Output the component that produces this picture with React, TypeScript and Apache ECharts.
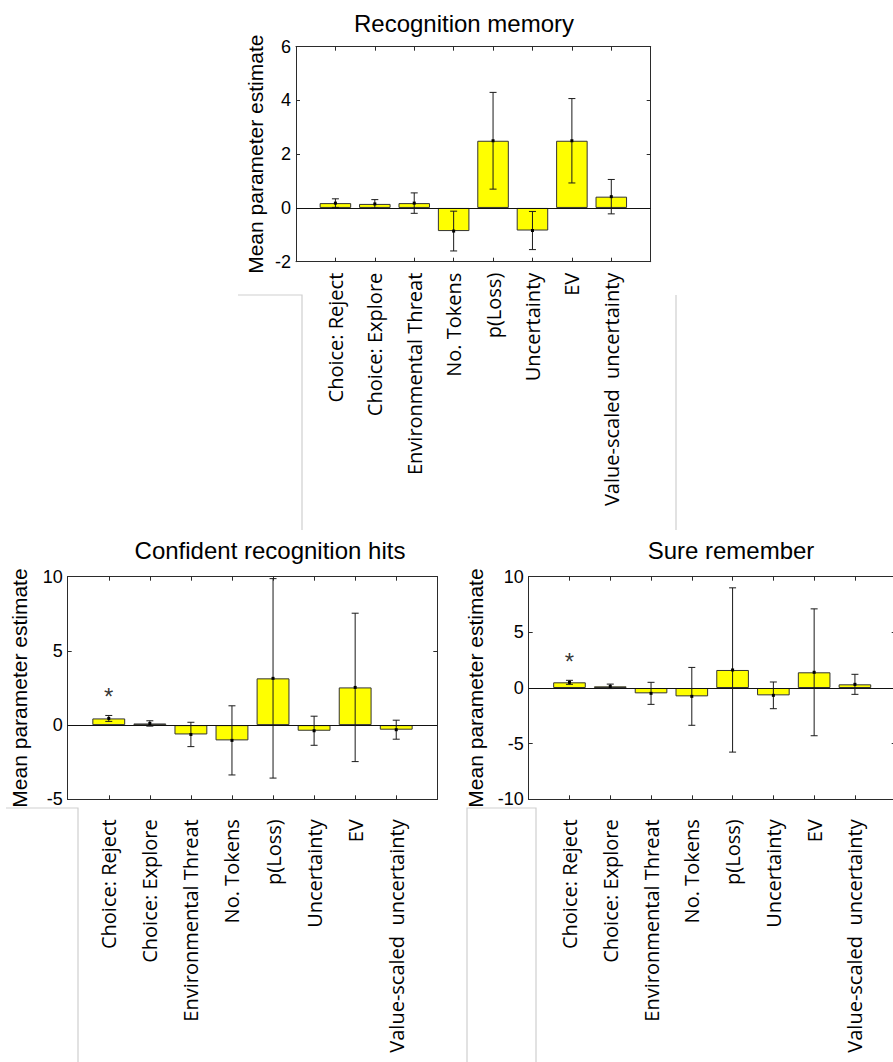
import React, { useEffect, useRef } from "react";
import * as echarts from "echarts";

const categories = [
  "Choice: Reject",
  "Choice: Explore",
  "Environmental Threat",
  "No. Tokens",
  "p(Loss)",
  "Uncertainty",
  "EV",
  "Value-scaled  uncertainty",
];

// Recognition memory
const recMean = [0.18, 0.15, 0.18, -0.86, 2.5, -0.84, 2.5, 0.42];
const recErr = [0.16, 0.16, 0.38, 0.74, 1.8, 0.71, 1.57, 0.64];
const recTicks = [-2, 0, 2, 4, 6];

// Confident recognition hits
const confMean = [0.45, 0.11, -0.63, -1.03, 3.15, -0.38, 2.54, -0.31];
const confErr = [0.2, 0.18, 0.82, 2.33, 6.72, 0.98, 5.0, 0.64];
const confTicks = [-5, 0, 5, 10];
const confStar = [[1, 2.27]];

// Sure remember
const sureMean = [0.51, 0.15, -0.48, -0.75, 1.62, -0.66, 1.41, 0.33];
const sureErr = [0.18, 0.2, 0.99, 2.6, 7.38, 1.2, 5.7, 0.9];
const sureTicks = [-10, -5, 0, 5, 10];
const sureStar = [[1, 2.8]];

const titles = ["Recognition memory", "Confident recognition hits", "Sure remember"];
const yName = "Mean parameter estimate";

const AX = "#2b2b2b";
const NUM_FONT = "Liberation Sans, Arial, sans-serif";
const CAT_FONT = "Open Sans, Noto Sans, sans-serif";

type Panel = {
  grid: { left: number; top: number; width: number; height: number };
  means: number[];
  errs: number[];
  ticks: number[];
  labelMargin: number;
  star?: number[][];
  title: string;
  titlePos: [number, number];
  nameGap: number;
};

export default function App() {
  const ref = useRef<HTMLDivElement>(null);

  useEffect(() => {
    if (!ref.current) return;
    const chart = echarts.init(ref.current, undefined, { renderer: "svg" });

    const panels: Panel[] = [
      {
        grid: { left: 296, top: 46.7, width: 354.7, height: 215 },
        means: recMean,
        errs: recErr,
        ticks: recTicks,
        labelMargin: 11,
        title: titles[0],
        titlePos: [464, 23],
        nameGap: 30,
      },
      {
        grid: { left: 67.7, top: 576.7, width: 369.6, height: 222.6 },
        means: confMean,
        errs: confErr,
        ticks: confTicks,
        labelMargin: 20,
        star: confStar,
        title: titles[1],
        titlePos: [270, 550],
        nameGap: 38,
      },
      {
        grid: { left: 528.7, top: 576.7, width: 367, height: 222.6 },
        means: sureMean,
        errs: sureErr,
        ticks: sureTicks,
        labelMargin: 20,
        star: sureStar,
        title: titles[2],
        titlePos: [731, 550],
        nameGap: 43,
      },
    ];

    const grids: any[] = [];
    const xAxes: any[] = [];
    const yAxes: any[] = [];
    const series: any[] = [];
    const graphics: any[] = [];

    panels.forEach((p, gi) => {
      grids.push({ ...p.grid, containLabel: false, show: false });
      const tickStep = p.ticks[1] - p.ticks[0];
      const common = {
        gridIndex: gi,
        axisLine: { show: true, onZero: false, lineStyle: { color: AX, width: 1 } },
        axisTick: { show: true, inside: true, length: 4, lineStyle: { color: AX, width: 1 } },
        splitLine: { show: false },
      };
      xAxes.push({
        ...common,
        type: "value",
        position: "bottom",
        min: 0,
        max: categories.length + 1,
        interval: 1,
        axisLabel: {
          show: true,
          rotate: 90,
          margin: p.labelMargin,
          fontFamily: CAT_FONT,
          fontSize: 20,
          color: "#000",
          showMinLabel: true,
          showMaxLabel: true,
          formatter: (v: number) => categories[Math.round(v) - 1] ?? "",
        },
      });
      xAxes.push({
        ...common,
        type: "value",
        position: "top",
        min: 0,
        max: categories.length + 1,
        interval: 1,
        axisLabel: { show: false },
      });
      yAxes.push({
        ...common,
        type: "value",
        position: "left",
        min: p.ticks[0],
        max: p.ticks[p.ticks.length - 1],
        interval: tickStep,
        axisLabel: {
          show: true,
          margin: 5,
          fontFamily: NUM_FONT,
          fontSize: 18,
          color: "#000",
        },
        name: yName,
        nameLocation: "middle",
        nameRotate: 90,
        nameGap: p.nameGap,
        nameTextStyle: { fontFamily: NUM_FONT, fontSize: 21, color: "#000" },
      });
      yAxes.push({
        ...common,
        type: "value",
        position: "right",
        min: p.ticks[0],
        max: p.ticks[p.ticks.length - 1],
        interval: tickStep,
        axisLabel: { show: false },
      });

      const xi = gi * 2;
      const yi = gi * 2;
      series.push({
        type: "bar",
        xAxisIndex: xi,
        yAxisIndex: yi,
        data: p.means.map((m, i) => [i + 1, m]),
        barWidth: (p.grid.width / 9) * 0.8,
        itemStyle: { color: "#ffff00", borderColor: "#333", borderWidth: 1 },
        markLine: {
          silent: true,
          symbol: ["none", "none"],
          label: { show: false },
          lineStyle: { color: "#111", width: 1, type: "solid" },
          data: [{ yAxis: 0 }],
        },
        z: 2,
      });
      series.push({
        type: "custom",
        xAxisIndex: xi,
        yAxisIndex: yi,
        data: p.means.map((m, i) => [i + 1, m, p.errs[i]]),
        encode: { x: 0, y: 1 },
        z: 5,
        renderItem: (_params: any, api: any) => {
          const x = api.value(0);
          const m = api.value(1);
          const e = api.value(2);
          const pt = api.coord([x, m + e]);
          const pb = api.coord([x, m - e]);
          const pm = api.coord([x, m]);
          const cap = 3.5;
          const style = { stroke: "#1a1a1a", lineWidth: 1, fill: "none" };
          return {
            type: "group",
            children: [
              { type: "line", shape: { x1: pt[0], y1: pt[1], x2: pb[0], y2: pb[1] }, style },
              { type: "line", shape: { x1: pt[0] - cap, y1: pt[1], x2: pt[0] + cap, y2: pt[1] }, style },
              { type: "line", shape: { x1: pb[0] - cap, y1: pb[1], x2: pb[0] + cap, y2: pb[1] }, style },
              {
                type: "rect",
                shape: { x: pm[0] - 1.5, y: pm[1] - 1.5, width: 3, height: 3 },
                style: { fill: "#000" },
              },
            ],
          };
        },
      });
      if (p.star) {
        series.push({
          type: "scatter",
          xAxisIndex: xi,
          yAxisIndex: yi,
          data: p.star,
          symbol: "circle",
          symbolSize: 1,
          itemStyle: { color: "rgba(0,0,0,0)" },
          label: {
            show: true,
            position: "inside",
            formatter: "*",
            fontFamily: NUM_FONT,
            fontSize: 24,
            color: "#000",
            offset: [0, 5],
          },
          z: 6,
        });
      }
      graphics.push({
        type: "text",
        x: p.titlePos[0],
        y: p.titlePos[1],
        style: {
          text: p.title,
          fontFamily: NUM_FONT,
          fontSize: 24,
          fill: "#000",
          align: "center",
          verticalAlign: "middle",
        },
      });
    });

    const grey = { stroke: "#cfcfcf", lineWidth: 1.2, fill: "none" };
    graphics.push(
      { type: "polyline", shape: { points: [[238, 295], [302, 295], [302, 530]] }, style: grey },
      { type: "line", shape: { x1: 676, y1: 295, x2: 676, y2: 530 }, style: grey },
      { type: "polyline", shape: { points: [[6, 808], [78, 808], [78, 1062]] }, style: grey },
      {
        type: "polyline",
        shape: { points: [[467, 1062], [467, 808], [536, 808], [536, 1062]] },
        style: grey,
      }
    );

    chart.setOption({
      animation: false,
      backgroundColor: "#fff",
      grid: grids,
      xAxis: xAxes,
      yAxis: yAxes,
      series,
      graphic: graphics,
    });

    return () => chart.dispose();
  }, []);

  return (
    <div
      style={{
        position: "absolute",
        left: 0,
        top: 0,
        width: 893,
        height: 1062,
        overflow: "hidden",
        background: "#fff",
      }}
    >
      <div ref={ref} style={{ width: 910, height: 1062 }} />
    </div>
  );
}
